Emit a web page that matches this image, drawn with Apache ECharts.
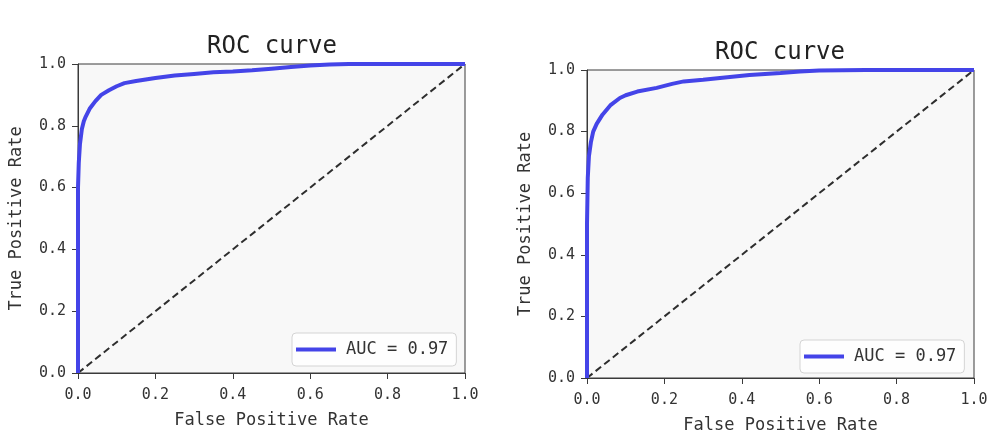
<!DOCTYPE html>
<html>
<head>
<meta charset="utf-8">
<script src="https://cdn.jsdelivr.net/npm/echarts@6/dist/echarts.min.js"></script>
<style>
  html, body { margin: 0; padding: 0; background: #fff; }
  #chart { width: 995px; height: 439px; }
</style>
</head>
<body>
<div id="chart"></div>
<script>
// left ROC curve
const fprA = [0, 0, 0.002, 0.005, 0.01, 0.015, 0.02, 0.03, 0.045, 0.06, 0.08, 0.1, 0.12, 0.15, 0.2, 0.25, 0.3, 0.35, 0.4, 0.45, 0.5, 0.55, 0.6, 0.65, 0.7, 0.8, 0.9, 1.0];
const tprA = [0, 0.6, 0.68, 0.74, 0.79, 0.815, 0.83, 0.855, 0.88, 0.9, 0.915, 0.928, 0.938, 0.945, 0.955, 0.963, 0.968, 0.973, 0.976, 0.98, 0.985, 0.99, 0.995, 0.998, 1.0, 1.0, 1.0, 1.0];
// right ROC curve
const fprB = [0, 0, 0.002, 0.005, 0.01, 0.016, 0.025, 0.04, 0.06, 0.085, 0.1, 0.13, 0.18, 0.22, 0.25, 0.3, 0.35, 0.42, 0.5, 0.55, 0.6, 0.72, 0.8, 1.0];
const tprB = [0, 0.5, 0.65, 0.72, 0.765, 0.8, 0.825, 0.855, 0.885, 0.909, 0.918, 0.93, 0.942, 0.955, 0.963, 0.968, 0.975, 0.984, 0.99, 0.995, 0.998, 1.0, 1.0, 1.0];
// chance line
const diagX = [0, 1];
const diagY = [0, 1];

const aucLabel = "AUC = 0.97";
const titleText = "ROC curve";
const xName = "False Positive Rate";
const yName = "True Positive Rate";

const font = "DejaVu Sans Mono";
const ink = "#333";
const frame = "#3a3a3a";
const blue = "#4444e8";

function pairs(xs, ys) {
  return xs.map((x, i) => [x, ys[i]]);
}

function xAxisFor(gi) {
  return {
    gridIndex: gi,
    type: "value",
    min: 0,
    max: 1,
    interval: 0.2,
    name: xName,
    nameLocation: "middle",
    nameGap: 39,
    nameTextStyle: { fontFamily: font, fontSize: 17, color: ink },
    axisLine: { show: true, onZero: false, lineStyle: { color: frame, width: 1 } },
    axisTick: { show: true, inside: false, length: 6, lineStyle: { color: frame } },
    axisLabel: {
      fontFamily: font, fontSize: 15, color: ink, margin: 15,
      formatter: (v) => v.toFixed(1),
    },
    splitLine: { show: false },
  };
}

function yAxisFor(gi) {
  return {
    gridIndex: gi,
    type: "value",
    min: 0,
    max: 1,
    interval: 0.2,
    name: yName,
    nameLocation: "middle",
    nameGap: 53,
    nameRotate: 90,
    nameTextStyle: { fontFamily: font, fontSize: 17, color: ink },
    axisLine: { show: true, onZero: false, lineStyle: { color: frame, width: 1 } },
    axisTick: { show: true, inside: false, length: 6, lineStyle: { color: frame } },
    axisLabel: {
      fontFamily: font, fontSize: 15, color: ink, margin: 12,
      formatter: (v) => v.toFixed(1),
    },
    splitLine: { show: false },
  };
}

function legendFor(left, top) {
  return {
    left: left,
    top: top,
    data: [aucLabel],
    icon: "rect",
    itemWidth: 40,
    itemHeight: 4,
    itemGap: 10,
    padding: [8, 8, 8, 4],
    backgroundColor: "rgba(255,255,255,0.85)",
    borderColor: "#d4d4d4",
    borderWidth: 1,
    borderRadius: 4,
    selectedMode: false,
    textStyle: { fontFamily: font, fontSize: 17, color: ink, padding: [0, 0, 0, 5] },
  };
}

function curve(gi, xs, ys) {
  return {
    name: aucLabel,
    type: "line",
    xAxisIndex: gi,
    yAxisIndex: gi,
    data: pairs(xs, ys),
    showSymbol: false,
    symbol: "none",
    lineStyle: { color: blue, width: 4 },
    itemStyle: { color: blue },
    z: 3,
  };
}

function chance(gi) {
  return {
    type: "line",
    xAxisIndex: gi,
    yAxisIndex: gi,
    data: pairs(diagX, diagY),
    symbol: "none",
    lineStyle: { color: "#2e2e2e", width: 2, type: [7, 4] },
    z: 2,
  };
}

const chart = echarts.init(document.getElementById("chart"));
chart.setOption({
  animation: false,
  textStyle: { fontFamily: font },
  title: [
    { text: titleText, left: 267, top: 30, textAlign: "center",
      textStyle: { fontFamily: font, fontSize: 24, fontWeight: "normal", color: "#222" } },
    { text: titleText, left: 775, top: 36, textAlign: "center",
      textStyle: { fontFamily: font, fontSize: 24, fontWeight: "normal", color: "#222" } },
  ],
  grid: [
    { left: 78, top: 64, width: 387, height: 309, show: true,
      backgroundColor: "#f8f8f8", borderColor: frame, borderWidth: 1 },
    { left: 587, top: 70, width: 387, height: 309, show: true,
      backgroundColor: "#f8f8f8", borderColor: frame, borderWidth: 1 },
  ],
  xAxis: [xAxisFor(0), xAxisFor(1)],
  yAxis: [yAxisFor(0), yAxisFor(1)],
  legend: [legendFor(292, 333), legendFor(800, 340)],
  series: [chance(0), curve(0, fprA, tprA), chance(1), curve(1, fprB, tprB)],
});
</script>
</body>
</html>
